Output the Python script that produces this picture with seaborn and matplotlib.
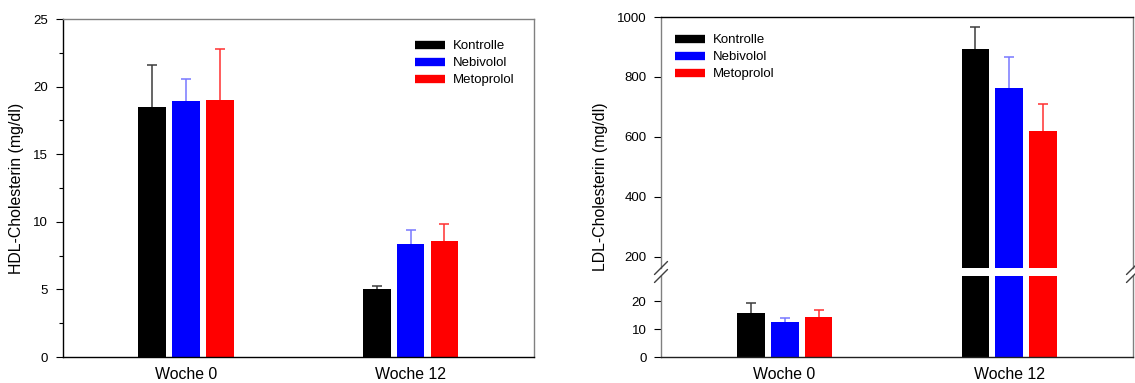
import numpy as np
import pandas as pd
import seaborn as sns
import matplotlib
matplotlib.use("Agg")
import matplotlib.pyplot as plt
from matplotlib.lines import Line2D

# ---- data -------------------------------------------------------------
weeks = ["Woche 0", "Woche 12"]
groups = ["Kontrolle", "Nebivolol", "Metoprolol"]

hdl_mean = {"Kontrolle": [18.5, 5.0], "Nebivolol": [18.9, 8.35], "Metoprolol": [19.0, 8.55]}
hdl_sd = {"Kontrolle": [3.1, 0.23], "Nebivolol": [1.65, 1.05], "Metoprolol": [3.75, 1.3]}

ldl_mean = {"Kontrolle": [15.9, 894.0], "Nebivolol": [12.4, 762.0], "Metoprolol": [14.5, 620.0]}
ldl_sd = {"Kontrolle": [3.3, 73.0], "Nebivolol": [1.4, 106.0], "Metoprolol": [2.5, 90.0]}

bar_colors = ["#000000", "#0000ff", "#ff0000"]
err_colors = ["#3c3c3c", "#7878ff", "#ff3030"]

hdl_ticks = [0, 5, 10, 15, 20, 25]
ldl_upper_ticks = [200, 400, 600, 800, 1000]
ldl_lower_ticks = [0, 10, 20]


def long_form(means):
    rows = []
    for g in groups:
        for w, v in zip(weeks, means[g]):
            rows.append({"Woche": w, "Gruppe": g, "Wert": v})
    return pd.DataFrame(rows)


# ---- style ------------------------------------------------------------
sns.set_style("white")
plt.rcParams["font.family"] = ["Liberation Sans", "DejaVu Sans"]
plt.rcParams["font.size"] = 9.5
plt.rcParams["text.color"] = "black"
plt.rcParams["axes.labelcolor"] = "black"
plt.rcParams["xtick.color"] = "black"
plt.rcParams["ytick.color"] = "black"

W, H = 1135, 383
fig = plt.figure(figsize=(W / 100, H / 100), dpi=100)


def fig_rect(x0, y0, x1, y1):
    """Axes rectangle from pixel corners (top-left origin)."""
    return [x0 / W, 1 - y1 / H, (x1 - x0) / W, (y1 - y0) / H]


ax_hdl = fig.add_axes(fig_rect(62.7, 19, 534, 357))
ax_up = fig.add_axes(fig_rect(661, 17, 1133, 268))
ax_lo = fig.add_axes(fig_rect(661, 276, 1133, 357))

bar_kw = dict(x="Woche", y="Wert", hue="Gruppe", order=weeks, hue_order=groups,
              palette=bar_colors, saturation=1, width=0.453, gap=0.18,
              errorbar=None, legend=False, linewidth=0)


def add_errors(ax, sds):
    """One-sided (upper) error bars with a cap only at the top."""
    for gi, (cont, g) in enumerate(zip(ax.containers, groups)):
        for bi, bar in enumerate(cont):
            bar.set_zorder(2)
            xc = bar.get_x() + bar.get_width() / 2
            yv = bar.get_height()
            _, caps, _ = ax.errorbar([xc], [yv], yerr=[[0], [sds[g][bi]]], fmt="none",
                                     ecolor=err_colors[gi], elinewidth=1.1, capsize=3.6,
                                     capthick=1.1, zorder=1)
            for cap in caps:
                if np.allclose(cap.get_ydata(), yv):
                    cap.set_visible(False)


def style_axes(ax):
    ax.set_xlim(-0.55, 1.55)
    ax.set_xlabel("")
    ax.set_ylabel("")
    ax.tick_params(axis="x", length=0, pad=7, labelsize=11.4)
    ax.tick_params(axis="y", which="major", direction="out", length=5,
                   width=0.8, pad=5.5, labelsize=9.5, left=True)
    for s in ax.spines.values():
        s.set_linewidth(1.0)


# ---- HDL panel --------------------------------------------------------
sns.barplot(data=long_form(hdl_mean), ax=ax_hdl, **bar_kw)
add_errors(ax_hdl, hdl_sd)
style_axes(ax_hdl)
ax_hdl.set_ylim(0, 25)
ax_hdl.set_yticks(hdl_ticks)
ax_hdl.set_yticks(np.arange(2.5, 25, 5), minor=True)
ax_hdl.tick_params(axis="y", which="minor", direction="out", length=3,
                   width=0.8, left=True)
ax_hdl.spines["left"].set_color("#000000")
ax_hdl.spines["bottom"].set_color("#000000")
ax_hdl.spines["top"].set_color("#808080")
ax_hdl.spines["right"].set_color("#808080")
ax_hdl.set_ylabel("HDL-Cholesterin (mg/dl)", fontsize=11.4)
ax_hdl.yaxis.set_label_coords(-0.082, 0.5)

# ---- LDL panel (broken y axis) ----------------------------------------
ldl_df = long_form(ldl_mean)
for ax in (ax_up, ax_lo):
    sns.barplot(data=ldl_df, ax=ax, **bar_kw)
    add_errors(ax, ldl_sd)
    style_axes(ax)
    ax.spines["left"].set_color("#808080")
    ax.spines["right"].set_color("#808080")

ax_up.set_ylim(162, 1000)
ax_up.set_yticks(ldl_upper_ticks)
ax_up.spines["bottom"].set_visible(False)
ax_up.spines["top"].set_color("#000000")
ax_up.tick_params(axis="x", bottom=False, labelbottom=False)

ax_lo.set_ylim(0, 29)
ax_lo.set_yticks(ldl_lower_ticks)
ax_lo.spines["top"].set_visible(False)
ax_lo.spines["bottom"].set_color("#202020")

ax_up.set_ylabel("LDL-Cholesterin (mg/dl)", fontsize=11.4)
ax_up.yaxis.set_label_coords(-0.112, 0.3227)

# break marks on both ends of the axis gap
d_px = 6.5
for ax, y in ((ax_up, 0.0), (ax_lo, 1.0)):
    for xa in (0.0, 1.0):
        x0, y0 = ax.transAxes.transform((xa, y))
        pts = np.array([[x0 - d_px, y0 - d_px], [x0 + d_px, y0 + d_px]])
        fx, fy = (pts / [W, H]).T
        fig.add_artist(Line2D(fx, fy, transform=fig.transFigure,
                              color="#404040", lw=1.0))

# ---- legends ----------------------------------------------------------
def legend_handles():
    return [Line2D([0], [0], color=c, lw=6, solid_capstyle="butt") for c in bar_colors]


leg_kw = dict(frameon=False, fontsize=9.5, handlelength=2.3, handletextpad=0.55,
              labelspacing=0.36, borderpad=0, borderaxespad=0,
              loc="upper left", bbox_transform=fig.transFigure)
ax_hdl.legend(legend_handles(), groups, bbox_to_anchor=(415 / W, 1 - 40 / H), **leg_kw)
ax_up.legend(legend_handles(), groups, bbox_to_anchor=(675 / W, 1 - 34 / H), **leg_kw)

fig.savefig("out.png", dpi=100)
